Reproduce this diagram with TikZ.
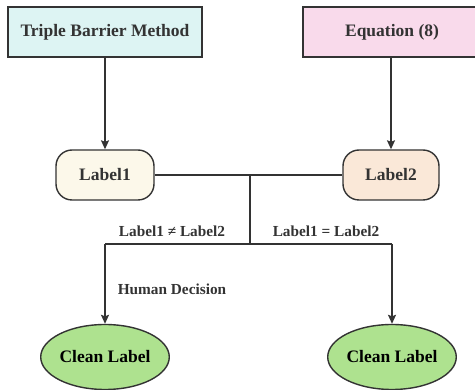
\documentclass[tikz,border=0pt]{standalone}
\usepackage{fontspec}
\setmainfont{Liberation Serif}
\usetikzlibrary{shapes.geometric,arrows.meta}
\definecolor{inkgray}{HTML}{333333}
\definecolor{tbmfill}{HTML}{DDF4F3}
\definecolor{eqfill}{HTML}{F9DAEB}
\definecolor{labonefill}{HTML}{FCF8EA}
\definecolor{labtwofill}{HTML}{FAE8D8}
\definecolor{cleanfill}{HTML}{AEE28F}
\begin{document}
\begin{tikzpicture}[x=1pt,y=-1pt,
		every node/.style={text=inkgray,font=\fontsize{17.5}{19}\selectfont\bfseries},
		srcbox/.style={draw=inkgray,line width=1.4pt,rectangle,minimum height=50pt},
		labbox/.style={draw=inkgray,line width=1.4pt,rectangle,rounded corners=16pt,minimum height=50pt},
		cleannode/.style={draw=inkgray,line width=1.4pt,ellipse,fill=cleanfill,inner sep=0pt,minimum height=65pt,minimum width=126pt,text=black},
		cond/.style={font=\fontsize{15.3}{17}\selectfont\bfseries},
		link/.style={draw=inkgray,line width=1.4pt},
		flow/.style={link,-{Stealth[length=9pt,width=8pt,inset=1.5pt]}}]
		\useasboundingbox (0,0) rectangle (475,390);
		% sources
		\node [srcbox,fill=tbmfill,minimum width=194pt] (tbm) at (105,32) {Triple Barrier Method};
		\node [srcbox,fill=eqfill,minimum width=178pt] (eqn) at (392,32) {Equation (8)};
		% labels
		\node [labbox,fill=labonefill,minimum width=98pt] (labone) at (105,175) {Label1};
		\node [labbox,fill=labtwofill,minimum width=96pt] (labtwo) at (391,175) {Label2};
		% results
		\node [cleannode] (cleanone) at (105,357) {Clean Label};
		\node [cleannode] (cleantwo) at (392,357) {Clean Label};
		% junctions
		\coordinate (join) at (250,175);
		\coordinate (split) at (250,244);
		\coordinate (splitl) at (105,244);
		\coordinate (splitr) at (392,244);
		\draw [flow] (tbm) -- (labone);
		\draw [flow] (eqn.south -| labtwo) -- (labtwo);
		\draw [link] (labone) -- (labtwo);
		\draw [link] (join) -- (split);
		\draw [link] (splitl) -- (splitr);
		\draw [flow] (splitl) -- (cleanone);
		\draw [flow] (splitr) -- (cleantwo);
		\node [cond] (neq) at (172,231) {Label1 ≠ Label2};
		\node [cond] (eq) at (326,231) {Label1 = Label2};
		\node [cond] (human) at (172,289) {Human Decision};
\end{tikzpicture}
\end{document}
